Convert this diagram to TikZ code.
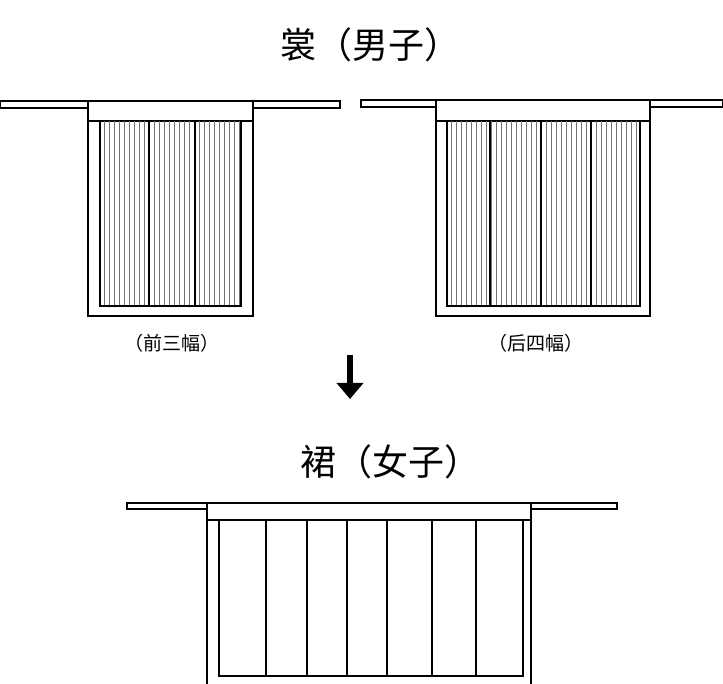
\documentclass[tikz,border=0pt]{standalone}
\usepackage{fontspec}
\newfontfamily\cjk{Noto Sans CJK SC}
\usetikzlibrary{arrows.meta}
\tikzset{
  garment/.style={draw=black, line width=1.5pt},
  divider/.style={draw=black, line width=1.3pt},
  pleat/.style={draw=black!55, line width=0.6pt},
  title/.style={font=\cjk\fontsize{36}{40}\selectfont},
  caption/.style={font=\cjk\fontsize{19}{22}\selectfont}
}
\begin{document}
\begin{tikzpicture}[x=1pt, y=-1pt]
\useasboundingbox (0,0) rectangle (723,684);

% Titles
\node [title] (tshang) at ( 370, 45 ) {裳（男子）};
\node [title] (tqun) at ( 390, 462 ) {裙（女子）};

% Front (three panels)
\draw [garment] ( 0, 101 ) rectangle ( 88, 108 );
\draw [garment] ( 253, 101 ) rectangle ( 340, 108 );
\draw [garment] ( 88, 101 ) rectangle ( 253, 121 );
\draw [garment] ( 88, 121 ) -- ( 88, 316 ) -- ( 253, 316 ) -- ( 253, 121 );
\foreach \x in {104,109,...,240} \draw [pleat] ( \x, 121 ) -- ( \x, 306 );
\draw [garment] ( 100, 121 ) -- ( 100, 306 ) -- ( 241, 306 ) -- ( 241, 121 );
\foreach \x in {149,195} \draw [divider] ( \x, 121 ) -- ( \x, 306 );

% Back (four panels)
\draw [garment] ( 361, 100 ) rectangle ( 436, 107 );
\draw [garment] ( 650, 100 ) rectangle ( 723, 107 );
\draw [garment] ( 436, 100 ) rectangle ( 650, 121 );
\draw [garment] ( 436, 121 ) -- ( 436, 316 ) -- ( 650, 316 ) -- ( 650, 121 );
\foreach \x in {451,456,...,639} \draw [pleat] ( \x, 121 ) -- ( \x, 306 );
\draw [garment] ( 447, 121 ) -- ( 447, 306 ) -- ( 640, 306 ) -- ( 640, 121 );
\foreach \x in {490,541,591} \draw [divider] ( \x, 121 ) -- ( \x, 306 );

% Captions
\node [caption] (cfront) at ( 172, 343 ) {（前三幅）};
\node [caption] (cback) at ( 536, 343 ) {（后四幅）};

% Arrow
\coordinate (atop) at ( 350, 355 );
\coordinate (abot) at ( 350, 399 );
\draw [line width=6pt, -{Triangle[length=16pt, width=26pt]}] (atop) -- (abot);

% Skirt (seven panels)
\draw [garment] ( 127, 503 ) rectangle ( 207, 509 );
\draw [garment] ( 531, 503 ) rectangle ( 617, 509 );
\draw [garment] ( 207, 503 ) rectangle ( 531, 520 );
\draw [garment] ( 207, 520 ) -- ( 207, 690 );
\draw [garment] ( 531, 520 ) -- ( 531, 690 );
\draw [garment] ( 219, 520 ) -- ( 219, 676 ) -- ( 523, 676 ) -- ( 523, 520 );
\foreach \x in {266,307,347,387,432,476} \draw [divider] ( \x, 520 ) -- ( \x, 676 );

\end{tikzpicture}
\end{document}
